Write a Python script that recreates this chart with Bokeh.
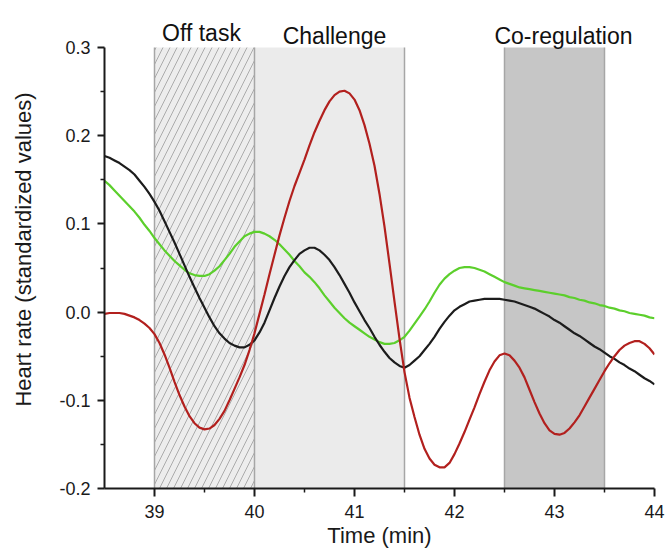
from bokeh.plotting import figure
from bokeh.models import Range1d, FixedTicker, PrintfTickFormatter
from bokeh.embed import file_html
from bokeh.resources import INLINE
from bokeh.core.properties import value

# ---------------- data ----------------
time_min = [38.50, 38.55, 38.60, 38.65, 38.70, 38.75, 38.80, 38.85, 38.90, 38.95,
            39.00, 39.05, 39.10, 39.15, 39.20, 39.25, 39.30, 39.35, 39.40, 39.45,
            39.50, 39.55, 39.60, 39.65, 39.70, 39.75, 39.80, 39.85, 39.90, 39.95,
            40.00, 40.05, 40.10, 40.15, 40.20, 40.25, 40.30, 40.35, 40.40, 40.45,
            40.50, 40.55, 40.60, 40.65, 40.70, 40.75, 40.80, 40.85, 40.90, 40.95,
            41.00, 41.05, 41.10, 41.15, 41.20, 41.25, 41.30, 41.35, 41.40, 41.45,
            41.50, 41.55, 41.60, 41.65, 41.70, 41.75, 41.80, 41.85, 41.90, 41.95,
            42.00, 42.05, 42.10, 42.15, 42.20, 42.25, 42.30, 42.35, 42.40, 42.45,
            42.50, 42.55, 42.60, 42.65, 42.70, 42.75, 42.80, 42.85, 42.90, 42.95,
            43.00, 43.05, 43.10, 43.15, 43.20, 43.25, 43.30, 43.35, 43.40, 43.45,
            43.50, 43.55, 43.60, 43.65, 43.70, 43.75, 43.80, 43.85, 43.90, 43.95,
            44.00]

hr_black = [0.177, 0.175, 0.172, 0.169, 0.165, 0.161, 0.156, 0.149, 0.142, 0.134,
            0.125, 0.115, 0.103, 0.091, 0.079, 0.066, 0.053, 0.040, 0.028, 0.016,
            0.005, -0.006, -0.016, -0.024, -0.030, -0.035, -0.038, -0.040, -0.040, -0.037,
            -0.032, -0.023, -0.012, 0.002, 0.016, 0.029, 0.041, 0.051, 0.059, 0.066,
            0.070, 0.073, 0.073, 0.070, 0.065, 0.059, 0.051, 0.042, 0.032, 0.022,
            0.011, 0.001, -0.009, -0.018, -0.028, -0.037, -0.045, -0.052, -0.057, -0.061,
            -0.063, -0.060, -0.055, -0.050, -0.043, -0.036, -0.028, -0.019, -0.011, -0.004,
            0.002, 0.006, 0.009, 0.012, 0.013, 0.014, 0.015, 0.015, 0.015, 0.015,
            0.014, 0.013, 0.012, 0.010, 0.008, 0.006, 0.004, 0.001, -0.002, -0.005,
            -0.009, -0.012, -0.016, -0.020, -0.024, -0.027, -0.031, -0.035, -0.039, -0.042,
            -0.046, -0.050, -0.053, -0.057, -0.060, -0.064, -0.067, -0.071, -0.075, -0.078,
            -0.082]

hr_green = [0.149, 0.144, 0.138, 0.132, 0.126, 0.120, 0.114, 0.107, 0.099, 0.092,
            0.084, 0.077, 0.070, 0.064, 0.058, 0.053, 0.048, 0.044, 0.042, 0.041,
            0.041, 0.043, 0.047, 0.052, 0.059, 0.066, 0.074, 0.080, 0.086, 0.089,
            0.091, 0.091, 0.089, 0.086, 0.082, 0.077, 0.071, 0.065, 0.058, 0.052,
            0.045, 0.040, 0.034, 0.027, 0.019, 0.012, 0.005, -0.001, -0.007, -0.012,
            -0.016, -0.020, -0.024, -0.028, -0.031, -0.034, -0.036, -0.036, -0.035, -0.032,
            -0.028, -0.021, -0.013, -0.005, 0.003, 0.012, 0.022, 0.031, 0.038, 0.043,
            0.047, 0.050, 0.051, 0.051, 0.050, 0.048, 0.046, 0.043, 0.040, 0.037,
            0.034, 0.032, 0.030, 0.028, 0.027, 0.026, 0.025, 0.024, 0.023, 0.022,
            0.021, 0.020, 0.019, 0.017, 0.016, 0.014, 0.013, 0.011, 0.010, 0.008,
            0.007, 0.005, 0.004, 0.002, 0.001, -0.001, -0.002, -0.003, -0.004, -0.006,
            -0.007]

hr_red = [-0.002, -0.001, -0.001, -0.001, -0.002, -0.004, -0.006, -0.009, -0.013, -0.018,
          -0.025, -0.035, -0.048, -0.063, -0.079, -0.094, -0.107, -0.118, -0.126, -0.131,
          -0.133, -0.132, -0.128, -0.121, -0.112, -0.100, -0.087, -0.074, -0.060, -0.043,
          -0.024, -0.002, 0.020, 0.043, 0.065, 0.087, 0.107, 0.126, 0.143, 0.158,
          0.173, 0.189, 0.204, 0.217, 0.229, 0.239, 0.246, 0.250, 0.251, 0.248,
          0.241, 0.229, 0.212, 0.191, 0.166, 0.134, 0.097, 0.055, 0.012, -0.030,
          -0.068, -0.097, -0.119, -0.139, -0.155, -0.166, -0.173, -0.176, -0.176, -0.171,
          -0.161, -0.149, -0.136, -0.122, -0.108, -0.093, -0.079, -0.066, -0.056, -0.049,
          -0.047, -0.049, -0.055, -0.063, -0.074, -0.088, -0.102, -0.115, -0.126, -0.134,
          -0.138, -0.139, -0.137, -0.132, -0.125, -0.117, -0.107, -0.097, -0.087, -0.077,
          -0.067, -0.058, -0.050, -0.043, -0.038, -0.035, -0.033, -0.033, -0.036, -0.041,
          -0.048]

region_names = ["Off task", "Challenge", "Co-regulation"]
region_start = [39.0, 40.0, 42.5]
region_end = [40.0, 41.5, 43.5]

x_ticks = [39, 40, 41, 42, 43, 44]
x_minor = [39.5, 40.5, 41.5, 42.5, 43.5]
y_ticks = [-0.2, -0.1, 0.0, 0.1, 0.2, 0.3]
y_minor = [-0.15, -0.05, 0.05, 0.15, 0.25]

# ---------------- figure ----------------
FONT = "Liberation Sans"
Y_TOP = 0.3
Y_BOT = -0.2

p = figure(width=666, height=556,
           x_range=Range1d(38.5, 44.0), y_range=Range1d(Y_BOT, 0.342),
           output_backend="svg", toolbar_location=None,
           min_border_left=104, min_border_right=12,
           min_border_top=10, min_border_bottom=68)
p.outline_line_color = None
p.grid.visible = False
p.background_fill_color = "white"

# shaded regions
region_fill = ["#ededed", "#ebebeb", "#c6c6c6"]
region_hatch = ["/", " ", " "]
for i in range(len(region_names)):
    p.quad(left=[region_start[i]], right=[region_end[i]],
           bottom=[Y_BOT], top=[Y_TOP],
           fill_color=region_fill[i], line_color=None,
           hatch_pattern=region_hatch[i], hatch_color="#a4a4a4",
           hatch_scale=14, hatch_weight=0.9)

edges = sorted(set(region_start + region_end))
p.segment(x0=edges, y0=[Y_BOT] * len(edges), x1=edges, y1=[Y_TOP] * len(edges),
          line_color="#a6a6a6", line_width=1.5)

# curves
p.line(time_min, hr_green, line_color="#5ccf2c", line_width=2.2)
p.line(time_min, hr_black, line_color="#1c1c1c", line_width=2.2)
p.line(time_min, hr_red, line_color="#b2201e", line_width=2.2)

# region labels
label_x = [39.47, 40.80, 43.09]
label_y = [0.317, 0.3135, 0.3135]
p.text(x=label_x, y=label_y, text=region_names,
       text_font=value(FONT), text_font_size="23px",
       text_align="center", text_baseline="alphabetic", text_color="#111111")

# axes
p.xaxis.ticker = FixedTicker(ticks=x_ticks, minor_ticks=x_minor)
p.yaxis.ticker = FixedTicker(ticks=y_ticks, minor_ticks=y_minor)
p.yaxis.formatter = PrintfTickFormatter(format="%.1f")
p.yaxis.bounds = (Y_BOT, Y_TOP)

p.xaxis.axis_label = "Time (min)"
p.yaxis.axis_label = "Heart rate (standardized values)"

for ax in (p.xaxis[0], p.yaxis[0]):
    ax.axis_line_width = 2
    ax.axis_line_color = "#1a1a1a"
    ax.major_tick_line_width = 2
    ax.major_tick_line_color = "#1a1a1a"
    ax.major_tick_in = 0
    ax.minor_tick_line_width = 1.5
    ax.minor_tick_line_color = "#1a1a1a"
    ax.minor_tick_in = 0
    ax.minor_tick_out = 4
    ax.major_label_text_font = FONT
    ax.major_label_text_font_size = "18px"
    ax.major_label_text_color = "#1a1a1a"
    ax.axis_label_text_font = FONT
    ax.axis_label_text_font_size = "22px"
    ax.axis_label_text_font_style = "normal"
    ax.axis_label_text_color = "#1a1a1a"

p.xaxis.major_tick_out = 8
p.xaxis.major_label_standoff = 8
p.xaxis.axis_label_standoff = 2
p.yaxis.major_tick_out = 7
p.yaxis.major_label_standoff = 7
p.yaxis.axis_label_standoff = 20

open("out.html", "w").write(file_html(p, INLINE))
